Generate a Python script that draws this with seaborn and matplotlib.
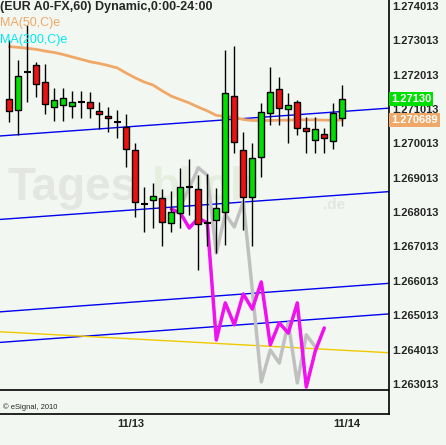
import numpy as np
import pandas as pd
import matplotlib
matplotlib.use('Agg')
import matplotlib.pyplot as plt
import seaborn as sns
from matplotlib.transforms import blended_transform_factory

# hourly EUR/USD candles, 11/12 12:00 .. 11/14 01:00
open_ = [1.27131, 1.27099, 1.27209, 1.27230, 1.27180, 1.27107, 1.27113, 1.27111, 1.27123, 1.27121,
         1.27096, 1.27082, 1.27065, 1.27048, 1.26982, 1.26825, 1.26837, 1.26842, 1.26769, 1.26798,
         1.26875, 1.26868, 1.26769, 1.26778, 1.26801, 1.27139, 1.26982, 1.26844, 1.26961, 1.27089,
         1.27159, 1.27101, 1.27121, 1.27045, 1.27011, 1.27028, 1.27008, 1.27074]
high = [1.27302, 1.27244, 1.27346, 1.27239, 1.27233, 1.27163, 1.27163, 1.27154, 1.27154, 1.27152,
        1.27122, 1.27108, 1.27099, 1.27087, 1.27003, 1.26875, 1.26886, 1.26869, 1.26863, 1.26930,
        1.26956, 1.26909, 1.26911, 1.26871, 1.27273, 1.27285, 1.27035, 1.27003, 1.27119, 1.27225,
        1.27196, 1.27147, 1.27128, 1.27077, 1.27077, 1.27045, 1.27118, 1.27171]
low = [1.27065, 1.27026, 1.27123, 1.27136, 1.27087, 1.27067, 1.27067, 1.27075, 1.27075, 1.27075,
       1.27043, 1.27035, 1.27017, 1.26934, 1.26788, 1.26744, 1.26755, 1.26704, 1.26744, 1.26755,
       1.26793, 1.26633, 1.26704, 1.26681, 1.26706, 1.26973, 1.26749, 1.26703, 1.26904, 1.27055,
       1.27055, 1.27003, 1.27026, 1.26974, 1.26974, 1.26974, 1.26984, 1.27053]
close = [1.27096, 1.27198, 1.27209, 1.27174, 1.27116, 1.27128, 1.27133, 1.27121, 1.27123, 1.27104,
         1.27087, 1.27074, 1.27065, 1.26984, 1.26830, 1.26825, 1.26848, 1.26772, 1.26803, 1.26874,
         1.26875, 1.26767, 1.26769, 1.26812, 1.27147, 1.27005, 1.26844, 1.26958, 1.27092, 1.27152,
         1.27104, 1.27113, 1.27045, 1.27038, 1.27042, 1.27016, 1.27089, 1.27130]
ma50 = [1.27283, 1.27281, 1.27278, 1.27275, 1.27270, 1.27266, 1.27260, 1.27253, 1.27246, 1.27239,
        1.27234, 1.27228, 1.27221, 1.27206, 1.27192, 1.27180, 1.27171, 1.27154, 1.27139, 1.27129,
        1.27119, 1.27107, 1.27096, 1.27083, 1.27080, 1.27077, 1.27071, 1.27068, 1.27068, 1.27068,
        1.27069, 1.27069, 1.27070, 1.27070, 1.27070, 1.27069, 1.27069, 1.270689]

# pattern projections
proj_pink_bar = list(range(18, 36))
proj_pink = [1.26810, 1.26799, 1.26755, 1.26784, 1.26770, 1.26429, 1.26537, 1.26473, 1.26563,
             1.26519, 1.26598, 1.26415, 1.26479, 1.26449, 1.26537, 1.26292, 1.26397, 1.26464]
proj_gray_bar = list(range(19, 35))
proj_gray = [1.26819, 1.26872, 1.26930, 1.26909, 1.26682, 1.26796, 1.26758, 1.26831,
             1.26575, 1.26307, 1.26400, 1.26362, 1.26479, 1.26304, 1.26444, 1.26409]

# trend channel lines: price at left edge, price at right edge
channel_start = [1.27023, 1.26780, 1.26511, 1.26422]
channel_end = [1.27104, 1.26861, 1.26594, 1.26505]
yellow_start, yellow_end = 1.26453, 1.26392

price_ticks = [1.263013, 1.264013, 1.265013, 1.266013, 1.267013, 1.268013,
               1.269013, 1.270013, 1.271013, 1.272013, 1.273013, 1.274013]
date_ticks = [12, 36]
date_labels = ['11/13', '11/14']

sns.set_style('white')
plt.rcParams['font.family'] = ['Liberation Sans', 'DejaVu Sans']

bg = '#f2f8f1'
fig = plt.figure(figsize=(4.46, 4.45), dpi=100, facecolor=bg)
ax = fig.add_axes([0, 31 / 445, 389 / 446, 414 / 445], facecolor=bg)

x_left, x_right = -1.033, 42.19
ax.set_xlim(x_left, x_right)
ax.set_ylim(1.262136, 1.274188)

# channel lines
for s, e in zip(channel_start, channel_end):
    sns.lineplot(x=[x_left, x_right], y=[s, e], color='#0000ee', lw=1, ax=ax, zorder=1)
sns.lineplot(x=[x_left, x_right], y=[yellow_start, yellow_end], color='#f0c800', lw=1, ax=ax, zorder=1)

# projections
sns.lineplot(x=proj_gray_bar, y=proj_gray, color='#c0c0c0', lw=2.5, ax=ax, zorder=1.5)
sns.lineplot(x=proj_pink_bar, y=proj_pink, color='#f010f0', lw=2.5, ax=ax, zorder=1.6)

df = pd.DataFrame({'open': open_, 'high': high, 'low': low, 'close': close, 'ma50': ma50})
df['bar'] = np.arange(len(df))

sns.lineplot(data=df, x='bar', y='ma50', color='#f0a868', lw=2, ax=ax, zorder=2)

# candles
ax.vlines(df['bar'], df['low'], df['high'], color='black', lw=1, zorder=3)
body_lo = df[['open', 'close']].min(axis=1)
body_h = (df['close'] - df['open']).abs()
doji = body_h < 0.00002
colors = np.where(df['close'] >= df['open'], '#00e000', '#ee1111')
ax.bar(df['bar'][~doji], body_h[~doji], bottom=body_lo[~doji], width=0.67,
       color=colors[~doji], edgecolor='black', linewidth=1, zorder=4)
ax.hlines(df['close'][doji], df['bar'][doji] - 0.38, df['bar'][doji] + 0.38,
          color='black', lw=1.5, zorder=4)

# pane separator
ax.axhline(1.262835, color='black', lw=1.2, zorder=5)

# watermark
ax.text(0.02, 0.545, 'Tages', transform=ax.transAxes, fontsize=33, fontweight='bold',
        color='#e3e6e1', zorder=0.5, va='center')
ax.text(0.39, 0.545, 'blick', transform=ax.transAxes, fontsize=33, fontweight='bold',
        color='#e5eedf', zorder=0.5, va='center')
ax.text(0.83, 0.505, '.de', transform=ax.transAxes, fontsize=11, fontweight='bold',
        color='#e3e6e1', zorder=0.5, va='center')

# axes
for side in ['left', 'top']:
    ax.spines[side].set_visible(False)
for side in ['right', 'bottom']:
    ax.spines[side].set_color('black')
    ax.spines[side].set_linewidth(1.2)

ax.yaxis.tick_right()
ax.set_yticks(price_ticks)
ax.set_yticklabels([f'{p:.6f}' for p in price_ticks], fontsize=8, fontweight='bold')
ax.tick_params(axis='y', length=0, pad=2)
ax.set_xticks(date_ticks)
ax.set_xticklabels([])
ax.tick_params(axis='x', direction='in', length=2, width=1)
ax.set_xlabel('')
ax.set_ylabel('')

tr = blended_transform_factory(ax.transData, ax.transAxes)
for t, lab in zip(date_ticks, date_labels):
    ax.text(t, -0.012, lab, transform=tr, fontsize=8, fontweight='bold', ha='left', va='top')

# last price boxes
tr2 = blended_transform_factory(ax.transAxes, ax.transData)
ax.text(1.005, close[-1], f'{close[-1]:.5f}', transform=tr2, fontsize=8, fontweight='bold',
        color='white', va='center', ha='left', zorder=6, clip_on=False,
        bbox=dict(boxstyle='square,pad=0.2', facecolor='#00e000', edgecolor='none'))
ax.text(1.005, ma50[-1], f'{ma50[-1]:.6f}', transform=tr2, fontsize=8, fontweight='bold',
        color='white', va='center', ha='left', zorder=6, clip_on=False,
        bbox=dict(boxstyle='square,pad=0.2', facecolor='#f0a868', edgecolor='none'))

# titles
ax.text(0.0, 0.997, '(EUR A0-FX,60) Dynamic,0:00-24:00', transform=ax.transAxes,
        fontsize=9, fontweight='bold', va='top', ha='left', zorder=6)
ax.text(0.0, 0.958, 'MA(50,C)e', transform=ax.transAxes, fontsize=9,
        color='#f0a868', va='top', ha='left', zorder=6)
ax.text(0.0, 0.917, 'MA(200,C)e', transform=ax.transAxes, fontsize=9,
        color='#00e8f0', va='top', ha='left', zorder=6)
ax.text(0.008, 0.017, '\u00a9 eSignal, 2010', transform=ax.transAxes, fontsize=5.5,
        va='center', ha='left', zorder=6)

fig.savefig('out.png', dpi=100, facecolor=bg)
